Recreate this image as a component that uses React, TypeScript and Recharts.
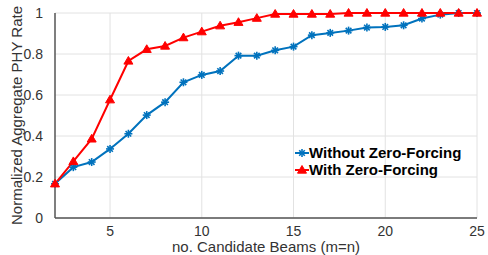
import React from 'react';
import { LineChart, Line, XAxis, YAxis, CartesianGrid } from 'recharts';

const beams = [2, 3, 4, 5, 6, 7, 8, 9, 10, 11, 12, 13, 14, 15, 16, 17, 18, 19, 20, 21, 22, 23, 24, 25];
const withoutZF = [0.167, 0.248, 0.273, 0.337, 0.411, 0.502, 0.565, 0.662, 0.698, 0.717, 0.792, 0.792, 0.818, 0.836, 0.892, 0.903, 0.914, 0.929, 0.932, 0.94, 0.973, 0.992, 1.0, 1.0];
const withZF = [0.167, 0.276, 0.386, 0.577, 0.766, 0.823, 0.839, 0.88, 0.909, 0.938, 0.955, 0.975, 0.995, 0.995, 0.995, 0.995, 1.0, 1.0, 1.0, 1.0, 1.0, 1.0, 1.0, 1.0];
const xTicks = [5, 10, 15, 20, 25];
const yTicks = [0, 0.2, 0.4, 0.6, 0.8, 1];

const data = beams.map((b, i) => ({ beams: b, without: withoutZF[i], with: withZF[i] }));

const BLUE = '#0072BD';
const RED = '#FF0000';
const FONT = '"Liberation Sans", Arial, sans-serif';

function StarDot(props: any) {
  const { cx, cy } = props;
  if (cx == null || cy == null) return null;
  const r = 4;
  const d = r * 0.7;
  return (
    <g stroke={BLUE} strokeWidth={1.6}>
      <line x1={cx - r} y1={cy} x2={cx + r} y2={cy} />
      <line x1={cx} y1={cy - r} x2={cx} y2={cy + r} />
      <line x1={cx - d} y1={cy - d} x2={cx + d} y2={cy + d} />
      <line x1={cx - d} y1={cy + d} x2={cx + d} y2={cy - d} />
    </g>
  );
}

function TriDot(props: any) {
  const { cx, cy } = props;
  if (cx == null || cy == null) return null;
  const r = 4.5;
  return <polygon points={`${cx},${cy - r} ${cx - r},${cy + r * 0.7} ${cx + r},${cy + r * 0.7}`} fill={RED} stroke={RED} />;
}

function LegendBox() {
  const items = [
    { label: 'Without Zero-Forcing', color: BLUE, Dot: StarDot },
    { label: 'With Zero-Forcing', color: RED, Dot: TriDot },
  ];
  return (
    <div style={{ position: 'absolute', left: 295, top: 144, fontFamily: FONT, fontSize: 15, fontWeight: 'bold', color: '#000', lineHeight: '17px' }}>
      {items.map(({ label, color, Dot }) => (
        <div key={label} style={{ display: 'flex', alignItems: 'center' }}>
          <svg width={14} height={12}>
            <line x1={0} y1={6} x2={14} y2={6} stroke={color} strokeWidth={2} />
            <Dot cx={7} cy={6} />
          </svg>
          <span>{label}</span>
        </div>
      ))}
    </div>
  );
}

export default function App() {
  return (
    <div style={{ position: 'absolute', left: 0, top: 0, width: 488, height: 255, background: '#fff' }}>
      <LineChart width={488} height={255} data={data} margin={{ top: 13, right: 11, bottom: 0, left: 0 }}>
        <CartesianGrid stroke="#e2e2e2" strokeWidth={1} verticalValues={xTicks} horizontalValues={yTicks} />
        <XAxis
          dataKey="beams"
          type="number"
          domain={[2, 25]}
          ticks={xTicks}
          tickLine={false}
          axisLine={{ stroke: '#555', strokeWidth: 1.5 }}
          tick={{ fontFamily: FONT, fontSize: 14, fill: '#333' }}
          tickMargin={2}
          height={37}
          label={{ value: 'no. Candidate Beams (m=n)', position: 'insideBottom', offset: 3, fontFamily: FONT, fontSize: 15, fill: '#333' }}
        />
        <YAxis
          type="number"
          domain={[0, 1]}
          ticks={yTicks}
          width={55}
          tickLine={false}
          axisLine={{ stroke: '#555', strokeWidth: 1.5 }}
          tick={{ fontFamily: FONT, fontSize: 14, fill: '#333' }}
          tickMargin={6}
          tickFormatter={(v: number) => String(v)}
          label={{ value: 'Normalized Aggregate PHY Rate', angle: -90, position: 'center', dx: -11, fontFamily: FONT, fontSize: 15, fill: '#333' }}
        />
        <Line type="linear" dataKey="without" stroke={BLUE} strokeWidth={2} dot={<StarDot />} isAnimationActive={false} />
        <Line type="linear" dataKey="with" stroke={RED} strokeWidth={2} dot={<TriDot />} isAnimationActive={false} />
      </LineChart>
      <LegendBox />
    </div>
  );
}
